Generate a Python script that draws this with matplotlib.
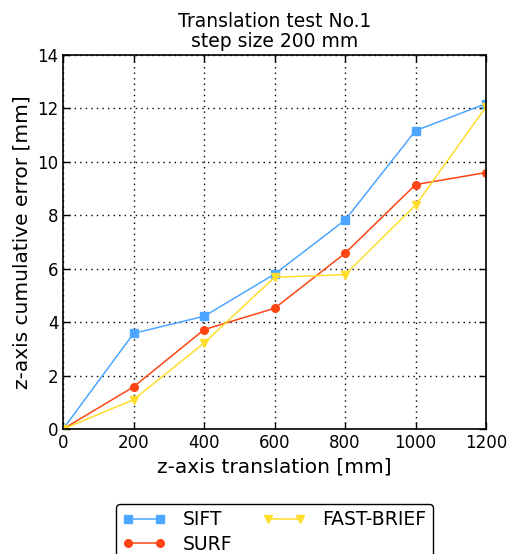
import matplotlib
matplotlib.use("Agg")
import matplotlib.pyplot as plt

# translation steps [mm]
translation = [0, 200, 400, 600, 800, 1000, 1200]

# cumulative error [mm]
sift = [0.0, 3.58, 4.22, 5.80, 7.82, 11.17, 12.18]
surf = [0.0, 1.58, 3.72, 4.52, 6.58, 9.15, 9.60]
fast_brief = [0.0, 1.10, 3.22, 5.68, 5.78, 8.38, 12.06]

x_ticks = [0, 200, 400, 600, 800, 1000, 1200]
y_ticks = [0, 2, 4, 6, 8, 10, 12, 14]

plt.rcParams["font.family"] = "DejaVu Sans"
plt.rcParams["xtick.direction"] = "in"
plt.rcParams["ytick.direction"] = "in"

fig = plt.figure(figsize=(5.09, 5.54), dpi=100)
ax = fig.add_axes([0.124, 0.2256, 0.831, 0.6751])

ax.plot(translation, sift, color="#4da6ff", marker="s", markersize=5.5,
        markeredgecolor="#4da6ff", linewidth=1.1, label="SIFT")
ax.plot(translation, surf, color="#ff4513", marker="o", markersize=5.5,
        markeredgecolor="#ff4513", linewidth=1.1, label="SURF")
ax.plot(translation, fast_brief, color="#ffdd2a", marker="v", markersize=5.5,
        markeredgecolor="#ffdd2a", linewidth=1.1, label="FAST-BRIEF")

ax.set_xlim(0, 1200)
ax.set_ylim(0, 14)
ax.set_xticks(x_ticks)
ax.set_yticks(y_ticks)
ax.tick_params(labelsize=12, top=True, right=True, length=5, width=1)
ax.grid(True, color="black", linestyle=(0, (1, 3)), linewidth=1)
for s in ax.spines.values():
    s.set_linewidth(1.2)

ax.set_title("Translation test No.1\nstep size 200 mm", fontsize=13.5,
             linespacing=1.05)
ax.set_xlabel("z-axis translation [mm]", fontsize=14.5)
ax.set_ylabel("z-axis cumulative error [mm]", fontsize=14.5)

leg = ax.legend(loc="upper center", bbox_to_anchor=(0.5, -0.175), ncol=2,
                numpoints=2, fontsize=13.5, fancybox=True, framealpha=1,
                edgecolor="black", handlelength=2.3, columnspacing=1.6,
                borderpad=0.35, labelspacing=0.3, handletextpad=0.9)
leg.get_frame().set_linewidth(1)

fig.savefig("out.png", dpi=100)
